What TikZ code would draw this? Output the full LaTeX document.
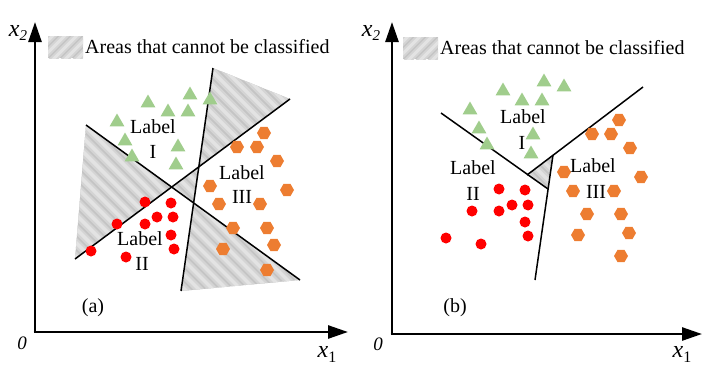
\documentclass[tikz,border=0pt]{standalone}
\usepackage{fontspec}
\setmainfont{Liberation Serif}
\usetikzlibrary{shapes.geometric,arrows.meta}
\definecolor{triG}{RGB}{160,205,140}
\definecolor{hexO}{RGB}{237,125,49}
\definecolor{dotR}{RGB}{255,0,0}
\tikzset{
 tri/.style={regular polygon,regular polygon sides=3,fill=triG,inner sep=0pt,minimum size=17pt},
 hexa/.style={regular polygon,regular polygon sides=6,fill=hexO,inner sep=0pt,minimum size=14pt},
 dot/.style={circle,fill=dotR,inner sep=0pt,minimum size=11pt},
 axis/.style={line width=2.6pt,-{Triangle[length=20pt,width=13pt]}},
 divline/.style={line width=1.5pt},
 lab/.style={font=\fontsize{20}{22}\selectfont,inner sep=0pt},
 hatch/.style={fill=gray!46,path picture={
   \foreach \k in {-620,-606,...,220}{
     \draw[gray!34,line width=8pt] ([shift={(\k,-200)}]path picture bounding box.center) -- ++(400,400);
     \draw[gray!22,line width=3.5pt] ([shift={(\k,-200)}]path picture bounding box.center) -- ++(400,400);}}},
 hatchb/.style={fill=gray!46,path picture={
   \foreach \k in {-620,-608,...,220}{
     \draw[gray!34,line width=7pt] ([shift={(\k,200)}]path picture bounding box.center) -- ++(400,-400);
     \draw[gray!22,line width=3pt] ([shift={(\k,200)}]path picture bounding box.center) -- ++(400,-400);}}}
}
\begin{document}
\begin{tikzpicture}[x=1pt,y=-1pt]
\useasboundingbox (0,0) rectangle (706,364);

% ================= panel (a) =================
\coordinate (aA1) at (86,125);
\coordinate (aA2) at (300,280);
\coordinate (aB1) at (75,259);
\coordinate (aB2) at (290,99);
\coordinate (aC1) at (213,68);
\coordinate (aC2) at (181,291);
\coordinate (aAB) at (intersection of aA1--aA2 and aB1--aB2);
\coordinate (aBC) at (intersection of aB1--aB2 and aC1--aC2);
\coordinate (aAC) at (intersection of aA1--aA2 and aC1--aC2);

\path[hatch] (aA1) -- (aAB) -- (aB1) -- cycle;
\path[hatch] (aAB) -- (aBC) -- (aAC) -- cycle;
\path[hatch] (aBC) -- (aC1) -- (aB2) -- cycle;
\path[hatch] (aAC) -- (aC2) -- (aA2) -- cycle;

\draw[divline] (aA1) -- (aA2);
\draw[divline] (aB1) -- (aB2);
\draw[divline] (aC1) -- (aC2);

% legend (a)
\path[hatchb] (48,36) rectangle (83,58);
\node[lab,anchor=west] (legA) at (85,47) {Areas that cannot be classified};

% axes (a)
\coordinate (aO) at (35,332);
\coordinate (aYt) at (35,22);
\coordinate (aXt) at (348,332);
\draw[axis] (aO) -- (aYt);
\draw[axis] ([xshift=-1.3pt]aO) -- (aXt);
\node[inner sep=0pt] (ax2) at (18,33) {\fontsize{24}{24}\selectfont\itshape x\raisebox{-4pt}{\fontsize{15}{15}\selectfont 2}};
\node[inner sep=0pt] (ax1) at (327,354) {\fontsize{24}{24}\selectfont\itshape x\raisebox{-5pt}{\fontsize{16}{16}\selectfont\upshape 1}};
\node[inner sep=0pt] (a0) at (22,343) {\fontsize{19}{19}\selectfont\itshape 0};

% markers (a)
\foreach \p [count=\i] in {(148,103),(190,95),(210,100),(168,112),(188,112),(117,122),(125,141),(132,157),(178,147),(176,165)}
  \node[tri] (aT\i) at \p {};
\foreach \p [count=\i] in {(145,202),(171,203),(157,217),(173,217),(145,224),(117,224),(171,235),(174,249),(91,251),(126,257)}
  \node[dot] (aR\i) at \p {};
\foreach \p [count=\i] in {(264,133),(237,147),(257,147),(277,161),(210,186),(287,190),(219,204),(260,204),(233,228),(267,228),(274,245),(223,249),(267,270)}
  \node[hexa] (aH\i) at \p {};

\node[lab] (aL1) at (153,127) {Label};
\node[lab] (aL1n) at (153,152) {I};
\node[lab] (aL2) at (140,239) {Label};
\node[lab] (aL2n) at (142,264) {II};
\node[lab] (aL3) at (242,173) {Label};
\node[lab] (aL3n) at (242,197) {III};
\node[lab] (acap) at (93,308) {(a)};

% ================= panel (b) =================
\coordinate (bA1) at (441,113);
\coordinate (bP) at (548,189);
\coordinate (bQ) at (527,175);
\coordinate (bB2) at (643,87);
\coordinate (bR) at (553,155);
\coordinate (bC2) at (535,280);

\path[hatch] (bQ) -- (bR) -- (bP) -- cycle;
\draw[divline] (bA1) -- (bP);
\draw[divline] (bQ) -- (bB2);
\draw[divline] (bR) -- (bC2);

% legend (b)
\path[hatchb] (403,37) rectangle (438,59);
\node[lab,anchor=west] (legB) at (440,48) {Areas that cannot be classified};

% axes (b)
\coordinate (bO) at (392,334);
\coordinate (bYt) at (392,22);
\coordinate (bXt) at (702,334);
\draw[axis] (bO) -- (bYt);
\draw[axis] ([xshift=-1.3pt]bO) -- (bXt);
\node[inner sep=0pt] (bx2) at (371,33) {\fontsize{24}{24}\selectfont\itshape x\raisebox{-4pt}{\fontsize{15}{15}\selectfont 2}};
\node[inner sep=0pt] (bx1) at (682,354) {\fontsize{24}{24}\selectfont\itshape x\raisebox{-5pt}{\fontsize{16}{16}\selectfont\upshape 1}};
\node[inner sep=0pt] (b0) at (378,344) {\fontsize{19}{19}\selectfont\itshape 0};

% markers (b)
\foreach \p [count=\i] in {(503,91),(544,82),(564,87),(522,101),(542,101),(470,110),(479,129),(487,145),(533,135),(531,154)}
  \node[tri] (bT\i) at \p {};
\foreach \p [count=\i] in {(499,189),(525,190),(512,205),(528,205),(499,211),(472,211),(525,222),(528,236),(446,238),(481,244)}
  \node[dot] (bRd\i) at \p {};
\foreach \p [count=\i] in {(619,120),(592,134),(611,134),(630,148),(564,172),(641,177),(573,191),(614,191),(587,214),(621,214),(629,233),(578,235),(621,256)}
  \node[hexa] (bH\i) at \p {};

\node[lab] (bL1) at (523,117) {Label};
\node[lab] (bL1n) at (522,143) {I};
\node[lab] (bL2) at (473,168) {Label};
\node[lab] (bL2n) at (473,194) {II};
\node[lab] (bL3) at (593,166) {Label};
\node[lab] (bL3n) at (596,192) {III};
\node[lab] (bcap) at (455,308) {(b)};
\end{tikzpicture}
\end{document}
